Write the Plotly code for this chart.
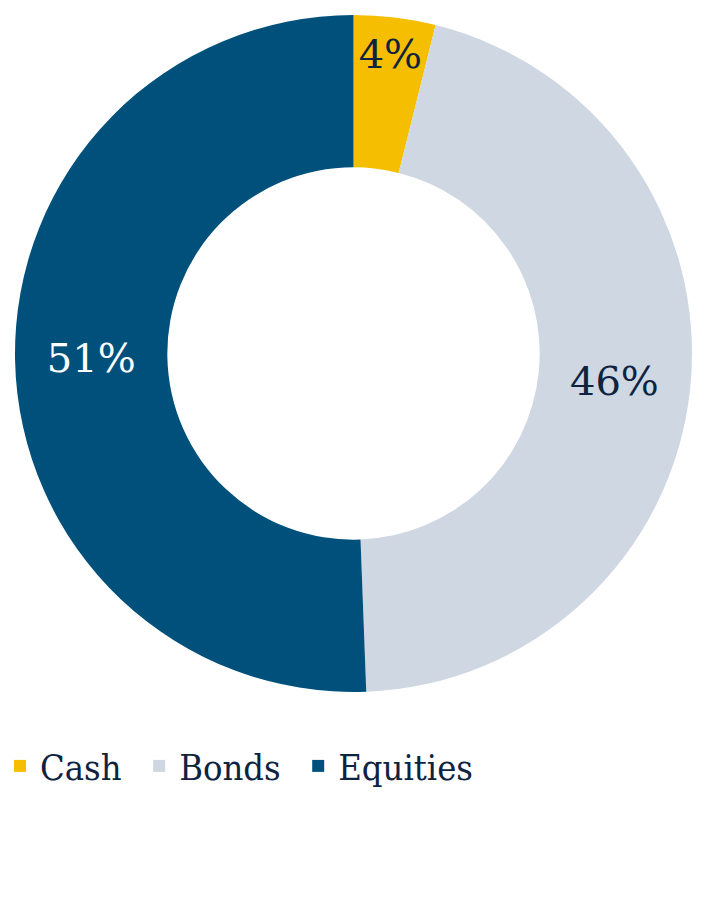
import plotly.graph_objects as go

labels = ["Cash", "Bonds", "Equities"]
values = [3.9, 45.5, 50.6]
text_labels = ["4%", "46%", "51%"]
colors = ["#F5BE00", "#CFD7E2", "#00507C"]
text_colors = ["#0D2340", "#0D2340", "#FFFFFF"]

LABEL_FONT = "DejaVu Serif"
LEGEND_FONT = "DejaVu Serif Condensed, DejaVu Serif"
W, H = 709, 917
OFF = 8  # page body offset

legend_names = [l + "\u00a0\u00a0" for l in labels]

fig = go.Figure(go.Pie(
    labels=legend_names,
    values=values,
    text=text_labels,
    textinfo="text",
    textposition="inside",
    insidetextorientation="horizontal",
    hole=0.55,
    sort=False,
    direction="clockwise",
    rotation=0,
    domain=dict(x=[(15 - OFF) / W, (692 - OFF) / W],
                y=[1 - (692 - OFF) / H, 1 - (15 - OFF) / H]),
    marker=dict(colors=colors, line=dict(width=0)),
    textfont=dict(family=LABEL_FONT, size=40, color=text_colors),
    hoverinfo="label+percent",
))

fig.update_layout(
    width=W,
    height=H,
    margin=dict(l=0, r=0, t=0, b=0),
    paper_bgcolor="white",
    plot_bgcolor="white",
    uniformtext=dict(minsize=40, mode="show"),
    showlegend=True,
    legend=dict(
        orientation="h",
        x=0,
        xanchor="left",
        y=(H - (766 - OFF)) / H,
        yanchor="middle",
        indentation=-8,
        font=dict(family=LEGEND_FONT, size=36, color="#0D2340"),
        traceorder="normal",
    ),
)

fig.write_html("out.html")
